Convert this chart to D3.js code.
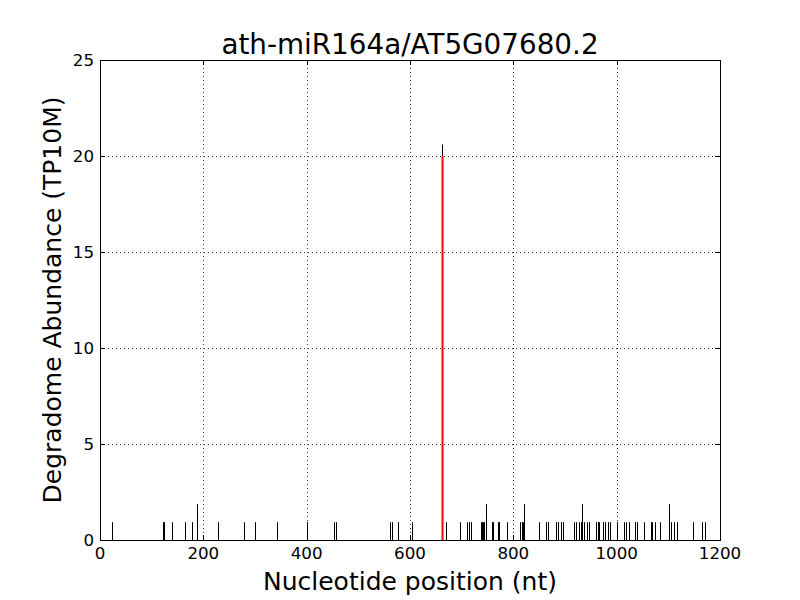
<!DOCTYPE html>
<html>
<head>
<meta charset="utf-8">
<script src="https://cdn.jsdelivr.net/npm/d3@7"></script>
<style>
  html, body { margin: 0; padding: 0; background: #fff; }
  svg { display: block; font-family: "DejaVu Sans", sans-serif; }
</style>
</head>
<body>
<svg id="chart" width="800" height="600"></svg>
<script>
// ---- data ----
const chartTitle = "ath-miR164a/AT5G07680.2";
const xLabel = "Nucleotide position (nt)";
const yLabel = "Degradome Abundance (TP10M)";
const xTicks = [0, 200, 400, 600, 800, 1000, 1200];
const yTicks = [0, 5, 10, 15, 20, 25];
const positions = [24,121,124,140,165,178,188,229,279,300,343,401,453,457,562,566,576,603,
  662,669,696,710,714,719,737,739,741,743,747,759,761,770,772,788,812,816,819,821,850,
  864,868,882,886,893,897,918,921,928,931,933,937,943,946,960,963,966,974,977,984,987,
  1000,1015,1018,1024,1036,1039,1052,1066,1069,1075,1083,1102,1106,1110,1117,1148,1166,1170];
const abundances = [0.93,0.93,0.93,0.93,0.93,0.93,1.87,0.93,0.93,0.93,0.93,0.93,0.93,0.93,0.93,0.93,0.93,0.93,
  20.6,0.93,0.93,0.93,0.93,0.93,0.93,0.93,0.93,0.93,1.87,0.93,0.93,0.93,0.93,0.93,0.93,0.93,0.93,1.87,0.93,
  0.93,0.93,0.93,0.93,0.93,0.93,0.93,0.93,0.93,0.93,1.87,0.93,0.93,0.93,0.93,0.93,0.93,0.93,0.93,0.93,0.93,
  0.93,0.93,0.93,0.93,0.93,0.93,0.93,0.93,0.93,0.93,0.93,1.87,0.93,0.93,0.93,0.93,0.93,0.93];
const sitePosition = [662];
const siteValue = [20];

// ---- layout ----
const svg = d3.select("#chart");
const L = 100, R = 720, T = 60, B = 540;
const x = d3.scaleLinear().domain([0, 1200]).range([L, R]);
const y = d3.scaleLinear().domain([0, 25]).range([B, T]);
const px = v => Math.round(v) + 0.5;

// grid
const grid = svg.append("g");
xTicks.slice(1, -1).forEach(t => {
  grid.append("line").attr("x1", px(x(t))).attr("x2", px(x(t))).attr("y1", T).attr("y2", B)
    .attr("stroke", "#000").attr("stroke-width", 0.8).attr("stroke-dasharray", "1,3");
});
yTicks.slice(1, -1).forEach(t => {
  grid.append("line").attr("y1", px(y(t))).attr("y2", px(y(t))).attr("x1", L).attr("x2", R)
    .attr("stroke", "#000").attr("stroke-width", 0.8).attr("stroke-dasharray", "1,3");
});

// bars
const data = positions.map((p, i) => ({p, v: abundances[i]}));
svg.append("g").selectAll("line").data(data).join("line")
  .attr("x1", d => px(x(d.p))).attr("x2", d => px(x(d.p)))
  .attr("y1", y(0)).attr("y2", d => y(d.v))
  .attr("stroke", "#000").attr("stroke-width", 1);

// cleavage site
svg.append("g").selectAll("line").data(sitePosition).join("line")
  .attr("x1", d => x(d) + 0.5).attr("x2", d => x(d) + 0.5)
  .attr("y1", y(0)).attr("y2", (d, i) => y(siteValue[i]))
  .attr("stroke", "#ff0000").attr("stroke-width", 2);

// frame
svg.append("rect").attr("x", L + 0.5).attr("y", T + 0.5).attr("width", R - L).attr("height", B - T)
  .attr("fill", "none").attr("stroke", "#000").attr("stroke-width", 1);

// ticks (inward, all sides)
const tl = 5;
const tk = svg.append("g").attr("stroke", "#000").attr("stroke-width", 1);
xTicks.forEach(t => {
  const xx = px(x(t));
  tk.append("line").attr("x1", xx).attr("x2", xx).attr("y1", B).attr("y2", B - tl);
  tk.append("line").attr("x1", xx).attr("x2", xx).attr("y1", T).attr("y2", T + tl);
});
yTicks.forEach(t => {
  const yy = px(y(t));
  tk.append("line").attr("y1", yy).attr("y2", yy).attr("x1", L).attr("x2", L + tl);
  tk.append("line").attr("y1", yy).attr("y2", yy).attr("x1", R).attr("x2", R - tl);
});

// tick labels
svg.append("g").selectAll("text").data(xTicks).join("text")
  .attr("x", d => x(d)).attr("y", 559)
  .attr("text-anchor", "middle").attr("font-size", "16.7px").text(d => d);
svg.append("g").selectAll("text").data(yTicks).join("text")
  .attr("x", 94).attr("y", d => y(d) + 6)
  .attr("text-anchor", "end").attr("font-size", "16.7px").text(d => d);

// labels
svg.append("text").attr("x", 410).attr("y", 54).attr("text-anchor", "middle")
  .attr("font-size", "27.8px").text(chartTitle);
svg.append("text").attr("x", 410).attr("y", 590).attr("text-anchor", "middle")
  .attr("font-size", "25px").text(xLabel);
svg.append("text").attr("transform", "translate(61,300) rotate(-90)").attr("text-anchor", "middle")
  .attr("font-size", "25px").text(yLabel);
</script>
</body>
</html>
